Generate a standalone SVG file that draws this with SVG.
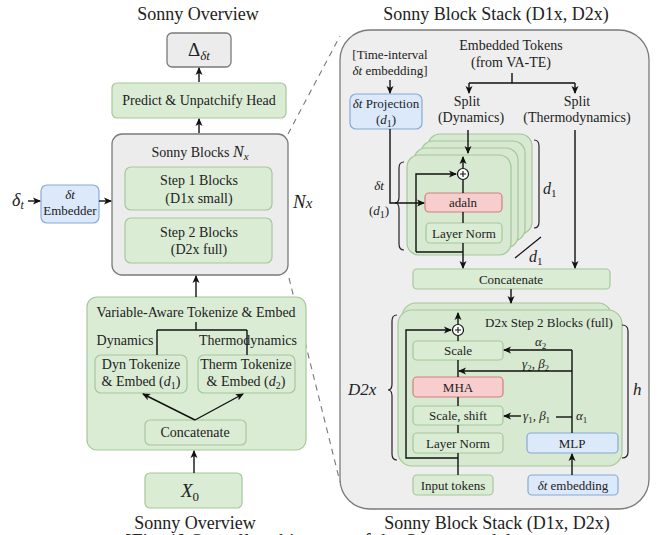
<svg xmlns="http://www.w3.org/2000/svg" width="665" height="535" viewBox="0 0 665 535">
<defs>
<marker id="ah" markerWidth="8" markerHeight="8" refX="7" refY="4" orient="auto" markerUnits="userSpaceOnUse">
<path d="M0,0.5 L8,4 L0,7.5 L2,4 Z" fill="#111"/>
</marker>
</defs>
<style>
text{font-family:"Liberation Serif","DejaVu Serif",serif;fill:#222;}
.t{font-size:18px;text-anchor:middle;}
.b{font-size:14px;text-anchor:middle;}
.s{font-size:13px;text-anchor:middle;}
.i{font-style:italic;}
.green{fill:#dbecd5;stroke:#a6c79c;stroke-width:1.2;}
.green2{fill:#d7e9d0;stroke:#a6c79c;stroke-width:1.2;}
.gray{fill:#ececec;stroke:#7a7a7a;stroke-width:1.3;}
.blue{fill:#dce9fb;stroke:#86aad8;stroke-width:1.2;}
.pink{fill:#f7cdcd;stroke:#cf8080;stroke-width:1.2;}
.ln{fill:none;stroke:#111;stroke-width:1.4;}
.ar{fill:none;stroke:#111;stroke-width:1.4;marker-end:url(#ah);}
.dash{fill:none;stroke:#777;stroke-width:1.1;stroke-dasharray:6,5;}
.br{fill:none;stroke:#222;stroke-width:1.2;}
</style>
<rect width="665" height="535" fill="#ffffff"/>

<!-- Titles -->
<text class="t" x="198" y="20">Sonny Overview</text>
<text class="t" x="496" y="20">Sonny Block Stack (D1x, D2x)</text>
<text class="t" x="195" y="529">Sonny Overview</text>
<text class="t" x="497" y="529">Sonny Block Stack (D1x, D2x)</text>
<text x="318" y="548" style="font-size:20px;text-anchor:middle;">[Fig. 1] Overall architecture of the Sonny model</text>

<!-- Dashed zoom lines -->
<g id="zoomlines">
<path class="dash" d="M288,134 L340,36"/>
<path class="dash" d="M289,278 L340,482"/>
</g>

<!-- LEFT PANEL -->
<g id="delta-out">
<rect class="gray" x="167" y="33" width="64" height="34" rx="5"/>
<text x="199" y="56" style="font-size:19px;text-anchor:middle;">Δ<tspan class="i" style="font-size:13px;" dy="4">δt</tspan></text>
</g>
<g id="predict-head">
<rect class="green" x="112" y="83" width="174" height="35" rx="5"/>
<text class="b" x="199" y="105">Predict &amp; Unpatchify Head</text>
</g>
<g id="sonny-blocks">
<rect class="gray" x="112" y="134" width="176" height="141" rx="10"/>
<text class="b" x="200" y="157">Sonny Blocks <tspan class="i" style="font-size:16px;">N</tspan><tspan class="i" style="font-size:11px;" dy="3">x</tspan></text>
</g>
<g id="step1">
<rect class="green" x="125" y="167" width="147" height="43" rx="6"/>
<text class="b" x="199" y="185">Step 1 Blocks</text>
<text class="b" x="199" y="203">(D1x small)</text>
</g>
<g id="step2">
<rect class="green" x="125" y="218" width="147" height="45" rx="6"/>
<text class="b" x="199" y="237">Step 2 Blocks</text>
<text class="b" x="199" y="254">(D2x full)</text>
</g>
<text class="i" x="293" y="208" style="font-size:19px;">N<tspan style="font-size:15px;">x</tspan></text>
<g id="dt-embedder">
<rect class="blue" x="41" y="185" width="58" height="38" rx="6"/>
<text class="s i" x="70" y="199">δt</text>
<text class="s" x="70" y="215">Embedder</text>
</g>
<text class="i" x="12" y="206" style="font-size:18px;">δ<tspan style="font-size:12px;" dy="3">t</tspan></text>

<g id="va-embed">
<rect class="green" x="87" y="297" width="219" height="153" rx="10"/>
<text class="b" x="196" y="317">Variable-Aware Tokenize &amp; Embed</text>
<text class="b" x="125" y="345">Dynamics</text>
<text class="b" x="248" y="345">Thermodynamics</text>
</g>
<g id="dyn-tok">
<rect class="green" x="95" y="355" width="92" height="38" rx="6"/>
<text class="b" x="141" y="369">Dyn Tokenize</text>
<text class="b" x="141" y="386">&amp; Embed (<tspan class="i">d</tspan><tspan style="font-size:10px;" dy="3">1</tspan><tspan dy="-3">)</tspan></text>
</g>
<g id="therm-tok">
<rect class="green" x="198" y="355" width="97" height="38" rx="6"/>
<text class="b" x="246" y="369">Therm Tokenize</text>
<text class="b" x="246" y="386">&amp; Embed (<tspan class="i">d</tspan><tspan style="font-size:10px;" dy="3">2</tspan><tspan dy="-3">)</tspan></text>
</g>
<g id="concat-left">
<rect class="green" x="145" y="420" width="101" height="25" rx="5"/>
<text class="b" x="195" y="437">Concatenate</text>
</g>
<g id="x0">
<rect class="green" x="145" y="473" width="97" height="35" rx="5"/>
<text class="i" x="190" y="497" style="font-size:19px;text-anchor:middle;">X<tspan style="font-size:13px;font-style:normal;" dy="4">0</tspan></text>
</g>

<g id="left-connectors">
<path class="ar" d="M199,82 L199,68"/>
<path class="ar" d="M199,133 L199,119"/>
<path class="ar" d="M28,201 L40,201"/>
<path class="ar" d="M99,201 L111,201"/>
<path class="ar" d="M196,297 L196,276"/>
<path class="ln" d="M196,322 L196,330 M157,330 L247,330 M157,330 L157,355 M247,330 L247,355"/>
<path class="ar" d="M195,420 L143,394"/>
<path class="ar" d="M195,420 L243,394"/>
<path class="ar" d="M194,473 L194,451"/>
</g>

<!-- RIGHT PANEL -->
<g id="stack-panel">
<rect class="gray" x="340" y="30" width="309" height="479" rx="30" style="fill:#eeeeee;"/>
</g>
<text class="s" x="390" y="59">[Time-interval</text>
<text class="s" x="390" y="75"><tspan class="i">δt</tspan> embedding]</text>
<text class="b" x="511" y="50">Embedded Tokens</text>
<text class="b" x="511" y="67">(from VA-TE)</text>
<g id="dt-proj">
<rect class="blue" x="350" y="94" width="72" height="35" rx="6"/>
<text class="s" x="386" y="108"><tspan class="i">δt</tspan> Projection</text>
<text class="s" x="386" y="124">(<tspan class="i">d</tspan><tspan style="font-size:10px;" dy="3">1</tspan><tspan dy="-3">)</tspan></text>
</g>
<g id="split-dyn">
<text class="b" x="467" y="106">Split</text>
<text class="b" x="471" y="122">(Dynamics)</text>
</g>
<g id="split-therm">
<text class="b" x="577" y="106">Split</text>
<text class="b" x="577" y="122">(Thermodynamics)</text>
</g>

<!-- D1 stack cards -->
<g id="d1-stack">
<rect class="green2" x="428" y="134" width="104" height="100" rx="12"/>
<rect class="green2" x="421" y="141" width="104" height="100" rx="12"/>
<rect class="green2" x="414" y="148" width="104" height="100" rx="12"/>
<rect class="green2" x="407" y="155" width="104" height="100" rx="12"/>
<circle cx="463" cy="174" r="5.5" fill="#fff" stroke="#111" stroke-width="1.2"/>
<path d="M460,174 L466,174 M463,171 L463,177" stroke="#111" stroke-width="1.1"/>
</g>
<g id="adaln">
<rect class="pink" x="425" y="193" width="77" height="19" rx="4"/>
<text class="s" x="463" y="207">adaln</text>
</g>
<g id="ln1">
<rect class="green" x="426" y="223" width="76" height="20" rx="4"/>
<text class="s" x="464" y="238">Layer Norm</text>
</g>
<path class="br" d="M404,162 Q399,162 399,168 L399,197 Q399,203 395,203 Q399,203 399,209 L399,244 Q399,250 404,250"/>
<path class="br" d="M534,140 Q539,140 539,146 L539,222 Q539,228 534,228"/>
<text class="i" x="543" y="194" style="font-size:16px;">d<tspan style="font-size:11px;font-style:normal;" dy="3">1</tspan></text>
<path class="ln" d="M515,258 L541,237" style="stroke-width:1.2;"/>
<text class="i" x="529" y="262" style="font-size:16px;">d<tspan style="font-size:11px;font-style:normal;" dy="3">1</tspan></text>
<text class="s i" x="379" y="190">δt</text>
<text class="s" x="379" y="215">(<tspan class="i">d</tspan><tspan style="font-size:10px;" dy="3">1</tspan><tspan dy="-3">)</tspan></text>

<g id="concat-right">
<rect class="green" x="413" y="269" width="197" height="20" rx="4"/>
<text class="s" x="511" y="284">Concatenate</text>
</g>

<!-- D2 stack -->
<g id="d2-stack">
<rect class="green2" x="402" y="303" width="210" height="155" rx="14"/>
<rect class="green2" x="398" y="310" width="224" height="156" rx="14"/>
<text class="s" x="549" y="327">D2x Step 2 Blocks (full)</text>
<circle cx="458" cy="330" r="5.5" fill="#fff" stroke="#111" stroke-width="1.2"/>
<path d="M455,330 L461,330 M458,327 L458,333" stroke="#111" stroke-width="1.1"/>
</g>
<g id="scale">
<rect class="green" x="413" y="341" width="90" height="19" rx="4"/>
<text class="s" x="458" y="355">Scale</text>
</g>
<g id="mha">
<rect class="pink" x="413" y="377" width="90" height="20" rx="4"/>
<text class="s" x="458" y="392">MHA</text>
</g>
<g id="scale-shift">
<rect class="green" x="413" y="406" width="90" height="19" rx="4"/>
<text class="s" x="458" y="420">Scale, shift</text>
</g>
<g id="ln2">
<rect class="green" x="413" y="433" width="90" height="20" rx="4"/>
<text class="s" x="458" y="448">Layer Norm</text>
</g>
<g id="mlp">
<rect class="blue" x="527" y="433" width="91" height="20" rx="4"/>
<text class="s" x="572" y="448">MLP</text>
</g>
<g id="input-tokens">
<rect class="green" x="413" y="475" width="80" height="20" rx="4"/>
<text class="s" x="453" y="490">Input tokens</text>
</g>
<g id="dt-emb">
<rect class="blue" x="528" y="475" width="90" height="20" rx="4"/>
<text class="s" x="573" y="490"><tspan class="i">δt</tspan> embedding</text>
</g>
<path class="br" d="M397,315 Q392,315 392,321 L392,384 Q392,390 388,390 Q392,390 392,396 L392,454 Q392,460 397,460"/>
<text class="i" x="348" y="395" style="font-size:17px;">D2x</text>
<path class="br" d="M622,325 Q628,325 628,331 L628,452 Q628,458 622,458"/>
<text class="i" x="633" y="395" style="font-size:17px;">h</text>
<text class="i" x="535" y="346" style="font-size:13px;">α<tspan style="font-size:9px;font-style:normal;" dy="3">2</tspan></text>
<text class="i" x="522" y="368" style="font-size:13px;">γ<tspan style="font-size:9px;font-style:normal;" dy="3">2</tspan><tspan dy="-3" style="font-style:normal;">, </tspan>β<tspan style="font-size:9px;font-style:normal;" dy="3">2</tspan></text>
<text class="i" x="523" y="420" style="font-size:13px;">γ<tspan style="font-size:9px;font-style:normal;" dy="3">1</tspan><tspan dy="-3" style="font-style:normal;">, </tspan>β<tspan style="font-size:9px;font-style:normal;" dy="3">1</tspan></text>
<text class="i" x="576" y="420" style="font-size:13px;">α<tspan style="font-size:9px;font-style:normal;" dy="3">1</tspan></text>

<g id="right-connectors">
<path class="ar" d="M390,80 L390,93"/>
<path class="ln" d="M512,73 L512,83 M469,83 L575,83"/>
<path class="ar" d="M469,83 L469,93"/>
<path class="ar" d="M575,83 L575,93"/>
<path class="ar" d="M468,130 L468,153"/>
<path class="ar" d="M463,168 L463,157"/>
<path class="ln" d="M463,193 L463,180"/>
<path class="ln" d="M463,212 L463,223"/>
<path class="ar" d="M390,129 L390,203 L424,203"/>
<path class="ar" d="M463,243 L463,268"/>
<path class="ar" d="M416,252 L416,174 L456,174"/>
<path class="ln" d="M416,252 L463,252"/>
<path class="ar" d="M575,130 L575,268"/>
<path class="ar" d="M511,289 L511,303"/>
<!-- D2 -->
<path class="ar" d="M458,324 L458,313"/>
<path class="ln" d="M458,341 L458,336"/>
<path class="ln" d="M458,360 L458,377 M458,397 L458,406 M458,425 L458,433"/>
<path class="ln" d="M458,475 L458,453"/>
<path class="ar" d="M458,458 L406,458 L406,330 L451,330"/>
<path class="ar" d="M572,475 L572,454"/>
<path class="ln" d="M572,433 L572,350"/>
<path class="ar" d="M572,350 L504,350"/>
<path class="ar" d="M572,371 L459,371"/>
<path class="ln" d="M572,417 L556,417"/>
<path class="ar" d="M521,416 L504,416"/>
</g>
</svg>
